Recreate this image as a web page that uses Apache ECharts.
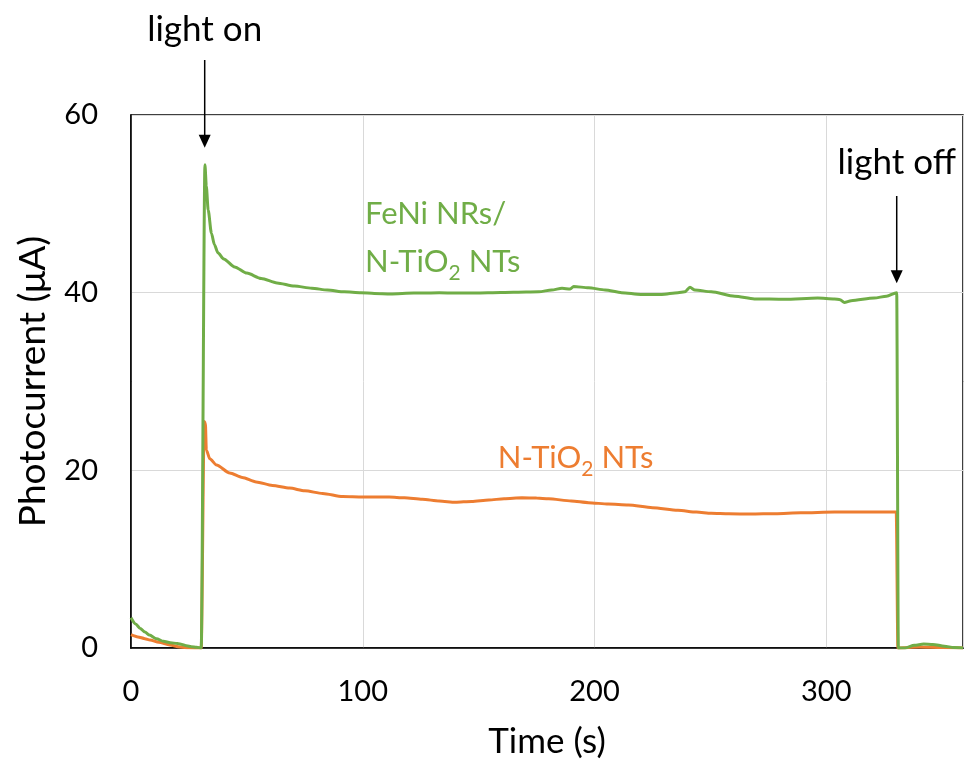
<!DOCTYPE html>
<html>
<head>
<meta charset="utf-8">
<script src="https://cdn.jsdelivr.net/npm/echarts@6/dist/echarts.min.js"></script>
<style>
  html, body { margin: 0; padding: 0; background: #fff; }
  #chart { width: 966px; height: 762px; }
</style>
</head>
<body>
<div id="chart"></div>
<script>
// Photocurrent transients under chopped illumination
const xTicks = [0, 100, 200, 300];
const yTicks = [0, 20, 40, 60];

// FeNi NRs / N-TiO2 NTs
const feniTime = [0, 2, 4, 6, 8, 11, 14, 17, 20, 22, 24, 26, 28.3, 30.3, 31.9, 32.5, 33.3, 34.7, 36, 37.5, 40, 44.7, 50, 56.2, 63, 70.5, 78, 84.8, 92, 99.2, 105, 112, 122, 133, 144, 154, 165, 176, 181.5, 186, 189.5, 191, 197.4, 204.6, 211.7, 220, 229, 236, 239, 241.2, 243.3, 250.4, 260.5, 269, 282, 296.3, 303.5, 306, 307.8, 310.7, 320.7, 326, 330.4, 331.1, 334, 338, 342, 346, 351, 355, 359];
const feniCurrent = [3.4, 2.7, 2.2, 1.8, 1.45, 1.05, 0.75, 0.6, 0.5, 0.4, 0.25, 0.15, 0.08, 0, 54.4, 52, 49.3, 46.7, 45.4, 44.5, 43.8, 42.9, 42.2, 41.6, 41.1, 40.75, 40.5, 40.3, 40.1, 40.0, 39.9, 39.85, 39.95, 40.0, 39.95, 40.0, 40.05, 40.1, 40.3, 40.5, 40.4, 40.7, 40.55, 40.3, 40.0, 39.8, 39.8, 40.0, 40.1, 40.6, 40.3, 40.1, 39.6, 39.3, 39.25, 39.4, 39.3, 39.2, 38.9, 39.1, 39.4, 39.6, 40.0, 0, 0, 0.3, 0.45, 0.4, 0.2, 0.05, 0];

// N-TiO2 NTs
const ntioTime = [0, 3, 6, 8.2, 12, 16.8, 21, 25, 30.3, 31.6, 32.1, 32.5, 34, 36.9, 42.6, 48, 54, 61, 68.4, 75, 82.7, 91.3, 100, 111.4, 118, 125.7, 133, 140, 147, 154.4, 161, 168.7, 175, 180.2, 190, 197.4, 206, 214.6, 225, 236, 244, 250.4, 258, 267.5, 278, 289, 303.5, 315, 330.2, 330.9, 340, 350, 359];
const ntioCurrent = [1.5, 1.25, 1.05, 0.9, 0.65, 0.34, 0.1, 0.02, 0, 25.5, 25.3, 22.3, 21.3, 20.6, 19.7, 19.2, 18.7, 18.3, 18.0, 17.7, 17.4, 17.05, 17.0, 17.0, 16.9, 16.74, 16.55, 16.4, 16.5, 16.66, 16.8, 16.9, 16.88, 16.8, 16.55, 16.36, 16.2, 16.1, 15.8, 15.5, 15.3, 15.16, 15.1, 15.08, 15.12, 15.23, 15.3, 15.3, 15.3, 0, 0.1, 0.05, 0];

const FONT = 'Lato, "Open Sans", sans-serif';
const GREEN = '#70AD47';
const ORANGE = '#ED7D31';

function pairs(xs, ys) { return xs.map((x, i) => [x, ys[i]]); }

const chart = echarts.init(document.getElementById('chart'), null, { renderer: 'canvas' });

chart.setOption({
  animation: false,
  backgroundColor: '#fff',
  grid: {
    left: 131, top: 115, right: 0, height: 533,
    show: true, borderColor: '#000', borderWidth: 1.5, backgroundColor: 'transparent'
  },
  xAxis: {
    type: 'value', min: 0, max: 359, interval: 100,
    axisLine: { show: true, lineStyle: { color: '#000', width: 1.5 } },
    axisTick: { show: false },
    axisLabel: {
      fontFamily: FONT, fontSize: 29, color: '#000', margin: 29,
      formatter: v => (xTicks.includes(v) ? String(v) : '')
    },
    splitLine: { show: true, lineStyle: { color: '#D9D9D9', width: 1 } }
  },
  yAxis: {
    type: 'value', min: 0, max: 60, interval: 20,
    axisLine: { show: true, lineStyle: { color: '#000', width: 1.5 } },
    axisTick: { show: false },
    axisLabel: {
      fontFamily: FONT, fontSize: 29, color: '#000', margin: 33,
      formatter: v => (yTicks.includes(v) ? String(v) : '')
    },
    splitLine: { show: true, lineStyle: { color: '#D9D9D9', width: 1 } }
  },
  series: [
    {
      name: 'N-TiO2 NTs', type: 'line', data: pairs(ntioTime, ntioCurrent),
      showSymbol: false, smooth: 0.25, smoothMonotone: 'x',
      lineStyle: { color: ORANGE, width: 3 }, itemStyle: { color: ORANGE }, z: 3
    },
    {
      name: 'FeNi NRs/N-TiO2 NTs', type: 'line', data: pairs(feniTime, feniCurrent),
      showSymbol: false, smooth: 0.25, smoothMonotone: 'x',
      lineStyle: { color: GREEN, width: 3 }, itemStyle: { color: GREEN }, z: 4
    }
  ]
});

// Annotations, axis titles and series labels, anchored to data coordinates
function px(t, v) { return chart.convertToPixel({ gridIndex: 0 }, [t, v]); }

function arrow(x, yTop, yTip) {
  return [
    { type: 'line', shape: { x1: x, y1: yTop, x2: x, y2: yTip - 10 },
      style: { stroke: '#000', lineWidth: 1.5 }, z: 10 },
    { type: 'polygon', shape: { points: [[x - 6, yTip - 13], [x + 6, yTip - 13], [x, yTip]] },
      style: { fill: '#000' }, z: 10 }
  ];
}

const onTip = px(31.8, 56.3);
const offTip = px(330.4, 41.05);

const subRich = (color) => ({
  a: { fontFamily: FONT, fontSize: 31, fill: color, lineHeight: 32, verticalAlign: 'top' },
  s: { fontFamily: FONT, fontSize: 21, fill: color, lineHeight: 21, verticalAlign: 'top', padding: [16, 0, 0, 0] }
});

const feniLabel = px(101, 48.86);
const ntioLabel = px(158.3, 21.3);
const plotMid = px(179.5, 30);

chart.setOption({
  graphic: [
    { type: 'text', x: plotMid[0], y: 742, z: 10,
      style: { text: 'Time (s)', font: '35px ' + FONT, fill: '#000', align: 'center', verticalAlign: 'middle' } },
    { type: 'text', x: 33, y: plotMid[1], rotation: Math.PI / 2, z: 10,
      style: { text: 'Photocurrent (\u03BCA)', font: '37px ' + FONT, fill: '#000', align: 'center', verticalAlign: 'middle' } },
    { type: 'text', x: onTip[0], y: 30, z: 10,
      style: { text: 'light on', font: '35px ' + FONT, fill: '#000', align: 'center', verticalAlign: 'middle' } },
    ...arrow(onTip[0], 60, onTip[1]),
    { type: 'text', x: offTip[0], y: 163, z: 10,
      style: { text: 'light off', font: '35px ' + FONT, fill: '#000', align: 'center', verticalAlign: 'middle' } },
    ...arrow(offTip[0], 196, offTip[1]),
    { type: 'text', x: feniLabel[0], y: feniLabel[1], z: 10,
      style: { text: 'FeNi NRs/', font: '31px ' + FONT, fill: GREEN, align: 'left', verticalAlign: 'middle' } },
    { type: 'text', x: feniLabel[0], y: feniLabel[1] + 49, z: 10,
      style: { text: '{a|N-TiO}{s|2}{a| NTs}', rich: subRich(GREEN), align: 'left', verticalAlign: 'middle' } },
    { type: 'text', x: ntioLabel[0], y: ntioLabel[1], z: 10,
      style: { text: '{a|N-TiO}{s|2}{a| NTs}', rich: subRich(ORANGE), align: 'left', verticalAlign: 'middle' } }
  ]
});
</script>
</body>
</html>
